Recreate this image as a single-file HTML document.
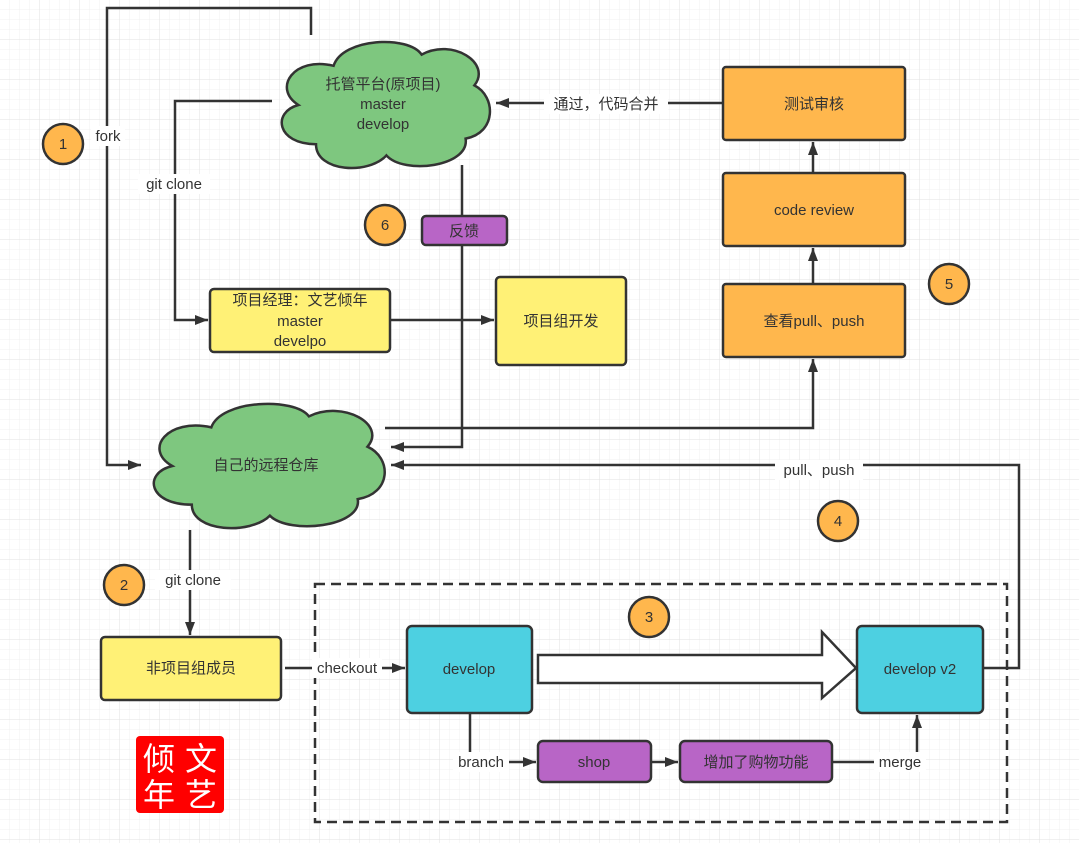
<!DOCTYPE html>
<html><head><meta charset="utf-8"><style>
html,body{margin:0;padding:0;background:#fff}
svg{display:block}
text{font-family:"Liberation Sans","Noto Sans CJK SC",sans-serif;font-size:15px;fill:#333}
</style></head><body>
<svg width="1079" height="843" viewBox="0 0 1079 843" xmlns="http://www.w3.org/2000/svg">
<defs>
<pattern id="g" width="10" height="10" patternUnits="userSpaceOnUse"><path d="M10 0V10H0" fill="none" stroke="#f0f0f0" stroke-width="1"/></pattern>
<pattern id="G" width="40" height="40" patternUnits="userSpaceOnUse"><rect width="40" height="40" fill="url(#g)"/><path d="M40 0V40H0" fill="none" stroke="#e2e2e2" stroke-width="1"/></pattern>
<marker id="a" markerWidth="14" markerHeight="12" refX="13" refY="6" orient="auto" markerUnits="userSpaceOnUse"><path d="M0,1 L13,6 L0,11 Z" fill="#333"/></marker>
</defs>
<rect width="1079" height="843" fill="url(#G)"/>
<g fill="none" stroke="#333" stroke-width="2.5">
<polyline points="311,35 311,8 107,8 107,465 141,465" marker-end="url(#a)"/>
<polyline points="272,101 175,101 175,320 208,320" marker-end="url(#a)"/>
<polyline points="462,165 462,447 391,447" marker-end="url(#a)"/>
<polyline points="390,320 494,320" marker-end="url(#a)"/>
<polyline points="723,103 496,103" marker-end="url(#a)"/>
<polyline points="813,173 813,142" marker-end="url(#a)"/>
<polyline points="813,284 813,248" marker-end="url(#a)"/>
<polyline points="385,428 813,428 813,359" marker-end="url(#a)"/>
<polyline points="983,668 1019,668 1019,465 391,465" marker-end="url(#a)"/>
<polyline points="190,530 190,635" marker-end="url(#a)"/>
<polyline points="285,668 405,668" marker-end="url(#a)"/>
<polyline points="470,713 470,762 536,762" marker-end="url(#a)"/>
<polyline points="651,762 678,762" marker-end="url(#a)"/>
<polyline points="832,762 917,762 917,715" marker-end="url(#a)"/>
<rect x="315" y="584" width="692" height="238" stroke-dasharray="10,6"/>
</g>
<path transform="translate(272,35) scale(2.2,1.4)" vector-effect="non-scaling-stroke" fill="#7ec77f" stroke="#333" stroke-width="2.5" d="M20,78 C2,78 0,55 12,50 C0,38 10,15 28,22 C32,2 62,0 68,14 C82,2 100,20 92,36 C102,44 102,70 88,74 C90,94 60,100 52,86 C44,100 20,98 20,78 Z"/>
<path transform="translate(143,397) scale(2.44,1.38)" vector-effect="non-scaling-stroke" fill="#7ec77f" stroke="#333" stroke-width="2.5" d="M20,78 C2,78 0,55 12,50 C0,38 10,15 28,22 C32,2 62,0 68,14 C82,2 100,20 92,36 C102,44 102,70 88,74 C90,94 60,100 52,86 C44,100 20,98 20,78 Z"/>
<g stroke="#333" stroke-width="2.5">
<rect x="210" y="289" width="180" height="63" rx="4" fill="#fff176"/>
<rect x="496" y="277" width="130" height="88" rx="4" fill="#fff176"/>
<rect x="101" y="637" width="180" height="63" rx="4" fill="#fff176"/>
<rect x="723" y="67" width="182" height="73" rx="3" fill="#ffb74d"/>
<rect x="723" y="173" width="182" height="73" rx="3" fill="#ffb74d"/>
<rect x="723" y="284" width="182" height="73" rx="3" fill="#ffb74d"/>
<rect x="422" y="216" width="85" height="29" rx="4" fill="#b865c6"/>
<rect x="407" y="626" width="125" height="87" rx="5" fill="#4dd0e1"/>
<rect x="857" y="626" width="126" height="87" rx="5" fill="#4dd0e1"/>
<rect x="538" y="741" width="113" height="41" rx="5" fill="#b865c6"/>
<rect x="680" y="741" width="152" height="41" rx="5" fill="#b865c6"/>
<path d="M538,655 H822 V632 L856,668 L822,698 V683 H538 Z" fill="#fff"/>
<circle cx="63" cy="144" r="20" fill="#ffb74d"/>
<circle cx="124" cy="585" r="20" fill="#ffb74d"/>
<circle cx="649" cy="617" r="20" fill="#ffb74d"/>
<circle cx="838" cy="521" r="20" fill="#ffb74d"/>
<circle cx="949" cy="284" r="20" fill="#ffb74d"/>
<circle cx="385" cy="225" r="20" fill="#ffb74d"/>
</g>
<g fill="#fff">
<rect x="91" y="126" width="34" height="20"/>
<rect x="138" y="174" width="72" height="20"/>
<rect x="544" y="94" width="124" height="20"/>
<rect x="775" y="460" width="88" height="20"/>
<rect x="155" y="570" width="76" height="20"/>
<rect x="312" y="658" width="70" height="20"/>
<rect x="453" y="752" width="56" height="20"/>
<rect x="874" y="752" width="52" height="20"/>
</g>
<g text-anchor="middle">
<text x="108" y="141">fork</text>
<text x="174" y="189">git clone</text>
<text x="606" y="109">通过，代码合并</text>
<text x="819" y="475">pull、push</text>
<text x="193" y="585">git clone</text>
<text x="347" y="673">checkout</text>
<text x="481" y="767">branch</text>
<text x="900" y="767">merge</text>
<text x="383" y="89">托管平台(原项目)</text>
<text x="383" y="109">master</text>
<text x="383" y="129">develop</text>
<text x="266" y="470">自己的远程仓库</text>
<text x="300" y="305">项目经理：文艺倾年</text>
<text x="300" y="326">master</text>
<text x="300" y="346">develpo</text>
<text x="561" y="326">项目组开发</text>
<text x="191" y="673">非项目组成员</text>
<text x="814" y="109">测试审核</text>
<text x="814" y="215">code review</text>
<text x="814" y="326">查看pull、push</text>
<text x="464" y="236">反馈</text>
<text x="469" y="674">develop</text>
<text x="920" y="674">develop v2</text>
<text x="594" y="767">shop</text>
<text x="756" y="767">增加了购物功能</text>
<text x="63" y="149">1</text>
<text x="124" y="590">2</text>
<text x="649" y="622">3</text>
<text x="838" y="526">4</text>
<text x="949" y="289">5</text>
<text x="385" y="230">6</text>
</g>
<rect x="136" y="736" width="88" height="77" rx="4" fill="#f00"/>
<g text-anchor="middle">
<text x="159" y="770" style="font-size:32px;fill:#fff">倾</text>
<text x="201" y="770" style="font-size:32px;fill:#fff">文</text>
<text x="159" y="806" style="font-size:32px;fill:#fff">年</text>
<text x="201" y="806" style="font-size:32px;fill:#fff">艺</text>
</g>
</svg>
</body></html>
